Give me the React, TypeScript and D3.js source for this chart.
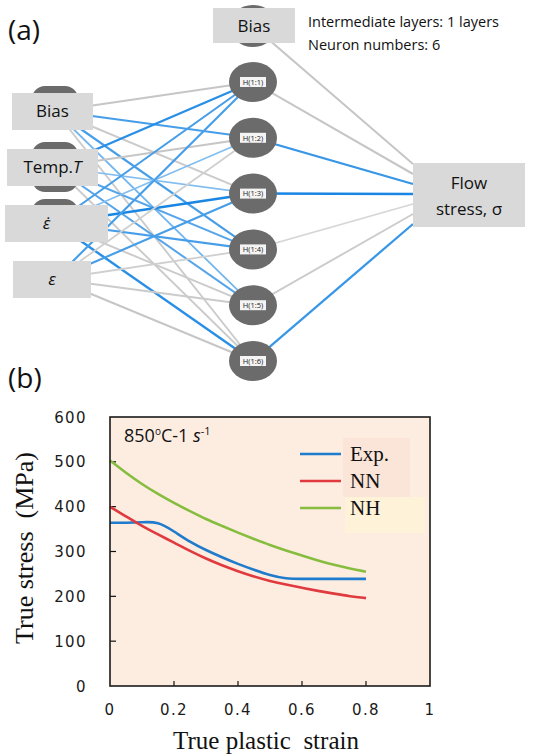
import React from 'react';
import * as d3 from 'd3';

// ---- (b) flow curves, 850°C / 1 s^-1 ----
const strain = [0, 0.05, 0.1, 0.15, 0.2, 0.25, 0.3, 0.35, 0.4, 0.45, 0.5, 0.55, 0.6, 0.65, 0.7, 0.75, 0.8];
const expStress = [364, 364, 365, 367, 345, 321, 303, 287, 272, 259, 247, 239, 239, 239, 239, 239, 239];
const nnStress = [400, 378, 357, 338, 320, 301, 284, 269, 256, 244, 234, 226, 219, 212, 206, 200, 196];
const nhStress = [503, 475, 450, 428, 408, 390, 372, 357, 342, 328, 314, 302, 291, 280, 270, 262, 255];
const seriesNames = ['Exp.', 'NN', 'NH'];
const seriesColors = ['#1f7bcb', '#e03a3e', '#86bd3e'];
const yTicks = [0, 100, 200, 300, 400, 500, 600];
const xTicks = [0, 0.2, 0.4, 0.6, 0.8, 1];
const xTickLabels = ['0', '0.2', '0.4', '0.6', '0.8', '1'];

// ---- (a) network ----
const inputLabels = ['Bias', 'Temp.T', 'ε̇', 'ε'];
const hiddenLabels = ['H(1:1)', 'H(1:2)', 'H(1:3)', 'H(1:4)', 'H(1:5)', 'H(1:6)'];
// positive = blue, negative = grey, magnitude = intensity
const inputWeights = [
  [-0.6, 0.7, -0.5, 0.7, 0.4, -0.5],
  [0.9, -0.6, 0.3, 0.6, 0.6, -0.5],
  [0.7, 0.3, 1.0, 0.7, -0.5, 0.9],
  [0.7, -0.4, 0.7, -0.4, -0.5, -0.6],
];
const outputWeights = [-0.6, -0.6, 0.8, 1.0, -0.25, -0.5, 0.8]; // bias, H1..H6

const font = '"Open Sans", "DejaVu Sans", sans-serif';
const serif = '"Liberation Serif", "DejaVu Serif", serif';
const tickFont = '"DejaVu Sans", sans-serif';

const linkColor = (w: number) =>
  w > 0
    ? d3.interpolateRgb('#ffffff', '#1a86e3')(0.35 + 0.65 * Math.abs(w))
    : d3.interpolateRgb('#ffffff', '#b4b4b4')(0.4 + 0.6 * Math.abs(w));
const linkWidth = (w: number) => 1.3 + Math.abs(w) * 1.2;

const Network: React.FC = () => {
  const hx = 253;
  const inX = 55;
  const outX = 413;
  const hy = d3.scalePoint<string>().domain(hiddenLabels).range([82, 361]);
  const iy = d3.scalePoint<string>().domain(inputLabels).range([111, 279]);
  const oy = d3.scalePoint<string>().domain(['b', ...hiddenLabels]).range([164, 224]);
  const biasY = 26;

  const boxes = [
    { x: 12, w: 81 },
    { x: 7, w: 91 },
    { x: 5, w: 103 },
    { x: 13, w: 78 },
  ];
  // dark node shapes peeking out from behind the label boxes
  const nodeTop = [25, 25, 24, 16];
  const nodeH = [40, 50, 40, 34];

  return (
    <g>
      <text x={8} y={40} fontFamily={font} fontSize={28} fill="#111">(a)</text>

      {/* input -> hidden links */}
      {inputLabels.map((inp, i) =>
        hiddenLabels.map((h, j) => (
          <line key={`${i}-${j}`} x1={inX} y1={iy(inp)} x2={hx} y2={hy(h)}
            stroke={linkColor(inputWeights[i][j])} strokeWidth={linkWidth(inputWeights[i][j])} />
        )),
      )}
      {/* hidden -> output links */}
      <line x1={hx} y1={biasY} x2={outX} y2={oy('b')}
        stroke={linkColor(outputWeights[0])} strokeWidth={linkWidth(outputWeights[0])} />
      {hiddenLabels.map((h, j) => (
        <line key={h} x1={hx} y1={hy(h)} x2={outX} y2={oy(h)}
          stroke={linkColor(outputWeights[j + 1])} strokeWidth={linkWidth(outputWeights[j + 1])} />
      ))}

      {/* input nodes behind their labels */}
      {inputLabels.map((inp, i) => (
        <rect key={inp} x={inX - 23} y={(iy(inp) as number) - nodeTop[i]} width={46}
          height={nodeH[i]} rx={13} fill="#6b6b6b" />
      ))}
      {inputLabels.map((inp, i) => (
        <g key={inp + 'b'}>
          <rect x={boxes[i].x} y={(iy(inp) as number) - 18} width={boxes[i].w} height={37} fill="#d9d9d9" />
          <text x={boxes[i].x + boxes[i].w / 2 - (i === 2 ? 10 : 0)} y={(iy(inp) as number) + 6}
            textAnchor="middle" fontFamily={font} fontSize={17} fill="#111">
            {i === 1 ? (
              <>
                Temp.<tspan fontStyle="italic">T</tspan>
              </>
            ) : i >= 2 ? (
              <tspan fontStyle="italic">{inp}</tspan>
            ) : (
              inp
            )}
          </text>
        </g>
      ))}

      {/* hidden nodes */}
      <ellipse cx={hx} cy={biasY} rx={24} ry={21} fill="#6b6b6b" />
      <rect x={213} y={8} width={82} height={35} fill="#d9d9d9" />
      <text x={254} y={32} textAnchor="middle" fontFamily={font} fontSize={17} fill="#111">Bias</text>
      {hiddenLabels.map((h) => (
        <g key={h + 'n'}>
          <ellipse cx={hx} cy={hy(h)} rx={24} ry={20} fill="#6b6b6b" />
          <rect x={hx - 13} y={(hy(h) as number) - 5} width={26} height={10} fill="#f4f4f4" />
          <text x={hx} y={(hy(h) as number) + 2.8} textAnchor="middle" fontFamily={font} fontSize={7.5} fill="#222">{h}</text>
        </g>
      ))}

      {/* output */}
      <rect x={outX} y={163} width={112} height={64} fill="#d9d9d9" />
      <text x={469} y={189} textAnchor="middle" fontFamily={font} fontSize={17} fill="#111">Flow</text>
      <text x={469} y={215} textAnchor="middle" fontFamily={font} fontSize={17} fill="#111">stress, σ</text>

      <text x={308} y={27} fontFamily={font} fontSize={14.5} fill="#111">Intermediate layers: 1 layers</text>
      <text x={308} y={50} fontFamily={font} fontSize={14.5} fill="#111">Neuron numbers: 6</text>
    </g>
  );
};

const FlowChart: React.FC = () => {
  const x = d3.scaleLinear().domain([0, 1]).range([110, 430]);
  const y = d3.scaleLinear().domain([0, 600]).range([686, 417]);
  const line = d3
    .line<number>()
    .x((_, i) => x(strain[i]))
    .y((d) => y(d))
    .curve(d3.curveBasis);
  const series = [expStress, nnStress, nhStress];
  const legendY = [454, 481, 508];

  return (
    <g>
      <text x={8} y={388} fontFamily={font} fontSize={28} fill="#111">(b)</text>
      <rect x={x(0)} y={y(600)} width={x(1) - x(0)} height={y(0) - y(600)} fill="#fdede1" />
      {/* legend background patches */}
      <rect x={343} y={438} width={67} height={59} fill="#fbe4d8" />
      <rect x={345} y={497} width={80} height={36} fill="#fef2d9" />

      {yTicks.map((t) => (
        <g key={t}>
          {t > 0 && t < 600 && <line x1={x(0)} x2={x(0) + 6} y1={y(t)} y2={y(t)} stroke="#111" strokeWidth={1.2} />}
          <text x={87} y={y(t) + 5.5} textAnchor="end" fontFamily={tickFont} fontSize={15} letterSpacing={1.4} fill="#1a1a1a">{t}</text>
        </g>
      ))}
      {xTicks.map((t, i) => (
        <g key={t}>
          {t > 0 && t < 1 && <line x1={x(t)} x2={x(t)} y1={y(0)} y2={y(0) - 5} stroke="#111" strokeWidth={1.2} />}
          <text x={x(t)} y={715} textAnchor="middle" fontFamily={tickFont} fontSize={15} letterSpacing={1.4} fill="#1a1a1a">{xTickLabels[i]}</text>
        </g>
      ))}

      {series.map((s, i) => (
        <path key={seriesNames[i]} d={line(s) as string} fill="none" stroke={seriesColors[i]} strokeWidth={2.6} />
      ))}

      <rect x={x(0)} y={y(600)} width={x(1) - x(0)} height={y(0) - y(600)} fill="none" stroke="#1a1a1a" strokeWidth={1.6} />

      <text x={124} y={442} fontFamily={font} fontSize={18} fill="#111">
        850<tspan dy={-7} fontSize={10}>o</tspan><tspan dy={7}>C-1 </tspan>
        <tspan fontStyle="italic">s</tspan><tspan dy={-7} fontSize={11}>-1</tspan>
      </text>

      {seriesNames.map((n, i) => (
        <g key={n}>
          <line x1={300} x2={341} y1={legendY[i]} y2={legendY[i]} stroke={seriesColors[i]} strokeWidth={2.6} />
          <text x={350} y={legendY[i] + 7} fontFamily={serif} fontSize={21} fill="#111">{n}</text>
        </g>
      ))}

      <text x={266} y={749} textAnchor="middle" fontFamily={serif} fontSize={25} fill="#111" xmlSpace="preserve">True plastic  strain</text>
      <text transform="translate(33,548) rotate(-90)" textAnchor="middle" fontFamily={serif} fontSize={26} fill="#111" xmlSpace="preserve">True stress  (MPa)</text>
    </g>
  );
};

export default function App() {
  return (
    <svg width={537} height={756} style={{ position: 'absolute', left: 0, top: 0, background: '#fff' }}>
      <Network />
      <FlowChart />
    </svg>
  );
}
